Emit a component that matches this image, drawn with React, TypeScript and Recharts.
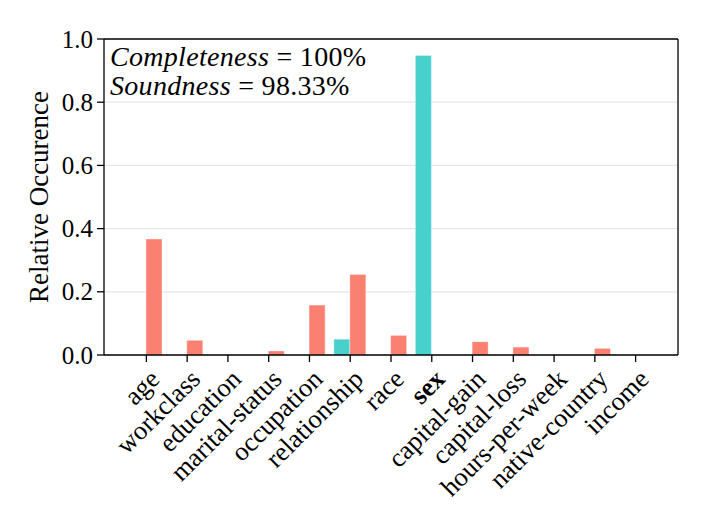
import React from 'react';
import { BarChart, Bar, XAxis, YAxis, CartesianGrid } from 'recharts';

const categories = [
  'age', 'workclass', 'education', 'marital-status', 'occupation', 'relationship',
  'race', 'sex', 'capital-gain', 'capital-loss', 'hours-per-week', 'native-country', 'income',
];
const tealValues = [0, 0, 0, 0, 0, 0.05, 0, 0.948, 0, 0, 0, 0, 0];
const salmonValues = [0.367, 0.0465, 0, 0.0127, 0.158, 0.255, 0.062, 0, 0.042, 0.025, 0, 0.021, 0];
const yTicks = [0, 0.2, 0.4, 0.6, 0.8, 1.0];
const boldCategory = 'sex';
const completenessText = '100%';
const soundnessText = '98.33%';

const data = categories.map((c, i) => ({ name: c, teal: tealValues[i], salmon: salmonValues[i] }));

const FONT = '"Liberation Serif", "DejaVu Serif", serif';

const XTick = (props: any) => {
  const { x, y, payload } = props;
  const bold = payload.value === boldCategory;
  return (
    <text
      transform={`translate(${x + 1},${y + 3}) rotate(-45)`}
      textAnchor="end"
      dominantBaseline="hanging"
      fontFamily={FONT}
      fontSize={26.5}
      fontWeight={bold ? 'bold' : 'normal'}
      fill="#000"
    >
      {payload.value}
    </text>
  );
};

const YTick = (props: any) => {
  const { x, y, payload } = props;
  return (
    <text x={x} y={y} textAnchor="end" dominantBaseline="central" fontFamily={FONT} fontSize={25} fill="#000">
      {Number(payload.value).toFixed(1)}
    </text>
  );
};

export default function App() {
  return (
    <div style={{ position: 'absolute', left: 0, top: 0, width: 708, height: 531, background: '#fff' }}>
      <BarChart
        width={708}
        height={531}
        data={data}
        margin={{ top: 38, right: 29, left: 40, bottom: 0 }}
        barGap={0}
        barCategoryGap={4}
      >
        <CartesianGrid horizontal vertical={false} stroke="#e6e6e6" strokeWidth={1.2} />
        <XAxis
          dataKey="name"
          interval={0}
          tick={<XTick />}
          tickSize={7}
          tickMargin={2}
          height={176}
          padding={{ left: 22, right: 22 }}
          axisLine={{ stroke: '#000', strokeWidth: 1.3 }}
          tickLine={{ stroke: '#000', strokeWidth: 1.3 }}
        />
        <XAxis
          xAxisId="top"
          dataKey="name"
          orientation="top"
          tick={false}
          tickLine={false}
          height={1}
          padding={{ left: 22, right: 22 }}
          axisLine={{ stroke: '#000', strokeWidth: 1.3 }}
        />
        <YAxis
          domain={[0, 1]}
          ticks={yTicks}
          width={64}
          tick={<YTick />}
          tickSize={7}
          tickMargin={4}
          axisLine={{ stroke: '#000', strokeWidth: 1.3 }}
          tickLine={{ stroke: '#000', strokeWidth: 1.3 }}
          label={{
            value: 'Relative Occurence',
            angle: -90,
            position: 'insideLeft',
            offset: -2,
            style: { textAnchor: 'middle', fontFamily: FONT, fontSize: 27, fill: '#000' },
          }}
        />
        <YAxis
          yAxisId="right"
          orientation="right"
          domain={[0, 1]}
          tick={false}
          tickLine={false}
          width={1}
          axisLine={{ stroke: '#000', strokeWidth: 1.3 }}
        />
        <Bar dataKey="teal" fill="#48D1CC" stroke="#ffffff" strokeOpacity={0.35} strokeWidth={1} barSize={16} isAnimationActive={false} />
        <Bar dataKey="salmon" fill="#FA8072" stroke="#ffffff" strokeOpacity={0.35} strokeWidth={1} barSize={16} isAnimationActive={false} />
      </BarChart>
      <svg width={708} height={531} style={{ position: 'absolute', left: 0, top: 0, pointerEvents: 'none' }}>
        <text x={110} y={66} fontFamily={FONT} fontSize={28} fill="#000" letterSpacing={0.3}>
          <tspan fontFamily={FONT} fontStyle="italic">Completeness</tspan>
          <tspan fontFamily={FONT} fontStyle="normal">{' = ' + completenessText}</tspan>
          <tspan x={110} dy={29} fontFamily={FONT} fontStyle="italic">Soundness</tspan>
          <tspan fontFamily={FONT} fontStyle="normal">{' = ' + soundnessText}</tspan>
        </text>
      </svg>
    </div>
  );
}
